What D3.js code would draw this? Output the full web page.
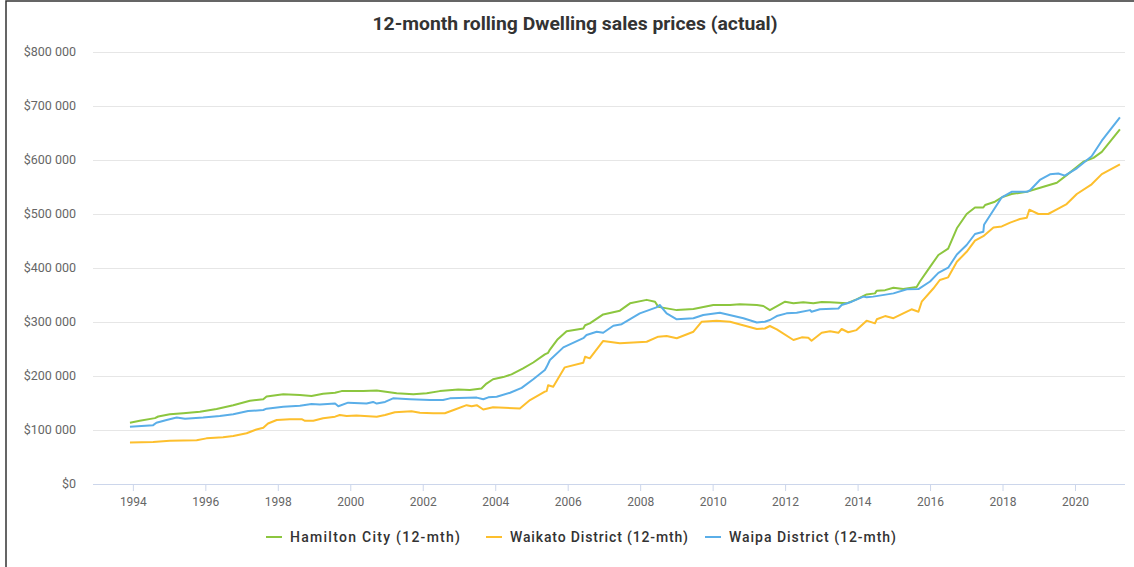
<!DOCTYPE html>
<html>
<head>
<meta charset="utf-8">
<script src="https://cdn.jsdelivr.net/npm/d3@7"></script>
<style>
  body { margin: 0; background: #fff; }
  text { font-family: Roboto, "Open Sans", sans-serif; }
</style>
</head>
<body>
<div id="chart"></div>
<script>
// [year, price in $000]
const hamilton = [[1993.92,113.6],[1994.19,117],[1994.61,122],[1994.70,125],[1995.02,129],[1995.39,131],[1995.85,134],[1996.31,139],[1996.77,146],[1997.23,154],[1997.60,157],[1997.69,162],[1998.15,166],[1998.61,165],[1998.93,163],[1999.25,167],[1999.58,169],[1999.76,172],[2000.36,172],[2000.73,173],[2001.28,168],[2001.74,166],[2002.11,168],[2002.47,172],[2002.98,175],[2003.30,174],[2003.62,177],[2003.76,186],[2003.94,194],[2004.22,198],[2004.45,203],[2004.77,214],[2005.05,225],[2005.37,240],[2005.46,243],[2005.51,249],[2005.71,267],[2005.97,283],[2006.43,288],[2006.48,294],[2006.61,297.5],[2006.98,314],[2007.44,321],[2007.72,334.6],[2008.18,341],[2008.41,337.6],[2008.50,328],[2009.01,322],[2009.47,324],[2010.02,331.5],[2010.48,331.5],[2010.75,333],[2011.22,331.5],[2011.40,329.6],[2011.58,322],[2012.00,337.6],[2012.23,334.6],[2012.50,336.5],[2012.78,334.6],[2013.01,337],[2013.24,336.5],[2013.70,334.6],[2013.97,342],[2014.25,351],[2014.48,353],[2014.53,358],[2014.76,359],[2014.99,363.5],[2015.26,361],[2015.63,365],[2015.72,375],[2016.00,402],[2016.23,424],[2016.50,436],[2016.74,473.5],[2017.01,500],[2017.24,512],[2017.47,512],[2017.52,516.7],[2017.79,522.8],[2018.02,532],[2018.25,537],[2018.67,541],[2018.90,545.7],[2019.13,550.6],[2019.50,558],[2019.77,572],[2020.23,596.8],[2020.51,604],[2020.74,615],[2021.24,656.8]];

const waikato = [[1993.92,77],[1994.56,78],[1995.02,80],[1995.76,81],[1996.03,84.5],[1996.49,86.5],[1996.77,89],[1997.14,94],[1997.41,101],[1997.60,104],[1997.73,112],[1997.97,118.5],[1998.33,120],[1998.66,120],[1998.75,117],[1998.98,117],[1999.25,121.6],[1999.58,124.7],[1999.71,127.8],[1999.90,126],[2000.17,127],[2000.73,124.7],[2000.96,127.8],[2001.23,133],[2001.69,134.6],[2001.92,132],[2002.29,131],[2002.61,131],[2002.89,138],[2003.21,146],[2003.35,144],[2003.49,146],[2003.67,138],[2003.94,142],[2004.68,140],[2004.96,155.5],[2005.37,171],[2005.42,172],[2005.46,183],[2005.60,180],[2005.92,216],[2006.43,224.6],[2006.48,235.7],[2006.61,232.7],[2006.98,265],[2007.44,260.5],[2008.18,263.5],[2008.50,272.8],[2008.73,274],[2009.01,270],[2009.47,282],[2009.70,300.5],[2010.11,302.5],[2010.48,300.5],[2010.89,293],[2011.22,287],[2011.44,288],[2011.58,292.6],[2011.77,286.4],[2012.23,266.7],[2012.46,271.6],[2012.64,271],[2012.73,265.4],[2013.01,280],[2013.24,283],[2013.47,280],[2013.56,287],[2013.74,281],[2013.97,285],[2014.25,302.5],[2014.48,297.5],[2014.53,305],[2014.76,311],[2014.99,307],[2015.26,316],[2015.49,323.5],[2015.68,319],[2015.77,337.6],[2016.09,362],[2016.27,377.8],[2016.50,382.7],[2016.74,411.7],[2017.01,430],[2017.24,450.6],[2017.47,459],[2017.75,475],[2017.98,477],[2018.21,484],[2018.48,490.7],[2018.67,493],[2018.74,508],[2018.99,500],[2019.26,500],[2019.50,508.6],[2019.77,518.5],[2020.05,537],[2020.46,555],[2020.74,573.9],[2021.24,592]];

const waipa = [[1993.92,106],[1994.56,109],[1994.65,113.5],[1994.93,118.5],[1995.21,123],[1995.44,121],[1995.94,123],[1996.40,126],[1996.77,129],[1997.18,135],[1997.60,137],[1997.69,139.5],[1998.15,143],[1998.61,145],[1998.93,148],[1999.16,147],[1999.58,149],[1999.67,144],[1999.94,150.6],[2000.45,149],[2000.63,152],[2000.73,149],[2000.96,152],[2001.18,158.6],[2001.65,157],[2002.20,155.5],[2002.56,155.5],[2002.75,158.6],[2003.49,160],[2003.67,157],[2003.81,160.5],[2004.04,161.7],[2004.41,169],[2004.73,178],[2005.05,194],[2005.37,211],[2005.42,217],[2005.51,229.6],[2005.88,253],[2006.43,270],[2006.52,276],[2006.80,282],[2006.98,280],[2007.26,293],[2007.49,296],[2007.99,316],[2008.45,327],[2008.54,331.5],[2008.73,316],[2009.01,305],[2009.47,307],[2009.74,313],[2010.20,317],[2010.85,307],[2011.22,299],[2011.44,300.6],[2011.58,303.7],[2011.77,311],[2012.04,316],[2012.32,317],[2012.69,322],[2012.73,319],[2012.96,323.5],[2013.47,325],[2013.56,331.5],[2013.84,337.6],[2014.16,347],[2014.25,345.7],[2014.43,347],[2014.99,353],[2015.36,360.5],[2015.68,361],[2016.00,375],[2016.23,391],[2016.50,400.6],[2016.74,425],[2017.01,442.6],[2017.24,463],[2017.47,467],[2017.49,480],[2017.98,531],[2018.25,541],[2018.67,541],[2018.76,544],[2019.03,563],[2019.31,573.5],[2019.54,575],[2019.72,571],[2020.05,584.6],[2020.46,607],[2020.74,635.7],[2021.24,679]];

const seriesNames = ['Hamilton City (12-mth)','Waikato District (12-mth)','Waipa District (12-mth)'];
const seriesColors = ['#8cc63f','#fdbf2d','#5aaee8'];
const yTicks = [0,100000,200000,300000,400000,500000,600000,700000,800000];
const xTicks = [1994,1996,1998,2000,2002,2004,2006,2008,2010,2012,2014,2016,2018,2020];

let w = 1134, h = 567;

let svg = d3.select('#chart')
    .append('svg')
    .attr('width', w)
    .attr('height', h);

// outer frame
svg.append('rect')
    .attr('x', 6).attr('y', 1)
    .attr('width', w + 10).attr('height', h + 10)
    .attr('fill', 'none')
    .attr('stroke', '#333')
    .attr('stroke-width', 1.5);

var xScale = d3.scaleLinear()
    .domain([1992.9, 2021.38])
    .range([93, 1125]);

var yScale = d3.scaleLinear()
    .domain([0, 800000])
    .range([484, 52]);

// gridlines + y labels
svg.append('g')
    .attr('transform', 'translate(93,0)')
    .call(d3.axisLeft(yScale).tickValues(yTicks).tickSize(-(1125 - 93)).tickFormat(''))
    .call(g => g.select('.domain').remove())
    .call(g => g.selectAll('line').attr('stroke', '#e6e6e6'));

svg.selectAll('ylab')
    .data(yTicks)
    .enter()
    .append('text')
    .attr('x', 76)
    .attr('y', d => yScale(d))
    .attr('dy', '0.35em')
    .style('text-anchor', 'end')
    .style('font-size', '12.5px')
    .attr('fill', '#666')
    .text(d => '$' + d3.format(',')(d).replace(/,/g, ' '));

// x axis
let xAxis = svg.append('g')
    .attr('transform', 'translate(0,484)')
    .call(d3.axisBottom(xScale).tickValues(xTicks).tickSize(7).tickFormat(d3.format('d')));
xAxis.select('.domain').attr('stroke', '#ccd6eb').attr('d', 'M93,0.5H1125');
xAxis.selectAll('line').attr('stroke', '#ccd6eb');
xAxis.selectAll('text')
    .attr('y', 13)
    .attr('fill', '#666')
    .style('font-size', '12px')
    .style('font-family', 'Roboto, sans-serif');

// lines
let line = d3.line()
    .x(d => xScale(d[0]))
    .y(d => yScale(d[1] * 1000));

[hamilton, waikato, waipa].forEach(function(s, i){
    svg.append('path')
        .datum(s)
        .attr('d', line)
        .attr('fill', 'none')
        .attr('stroke', seriesColors[i])
        .attr('stroke-width', 2)
        .attr('stroke-linejoin', 'round');
});

// title
svg.append('text')
    .attr('x', 575)
    .attr('y', 30)
    .style('text-anchor', 'middle')
    .style('font-size', '18px')
    .style('font-weight', 'bold')
    .attr('fill', '#333')
    .attr('textLength', 405)
    .attr('lengthAdjust', 'spacingAndGlyphs')
    .text('12-month rolling Dwelling sales prices (actual)');

// legend
let legendX = [266, 486, 705];
let legendW = [170, 178, 167];
let legend = svg.selectAll('legend')
    .data(seriesNames)
    .enter()
    .append('g')
    .attr('transform', (d, i) => 'translate(' + legendX[i] + ',537)');

legend.append('line')
    .attr('x1', 0).attr('x2', 16)
    .attr('y1', 0).attr('y2', 0)
    .attr('stroke', (d, i) => seriesColors[i])
    .attr('stroke-width', 2);

legend.append('text')
    .attr('x', 24)
    .attr('dy', '0.35em')
    .style('font-size', '14px')
    .style('font-weight', '500')
    .attr('fill', '#333')
    .attr('textLength', (d, i) => legendW[i])
    .attr('lengthAdjust', 'spacing')
    .text(d => d);
</script>
</body>
</html>
